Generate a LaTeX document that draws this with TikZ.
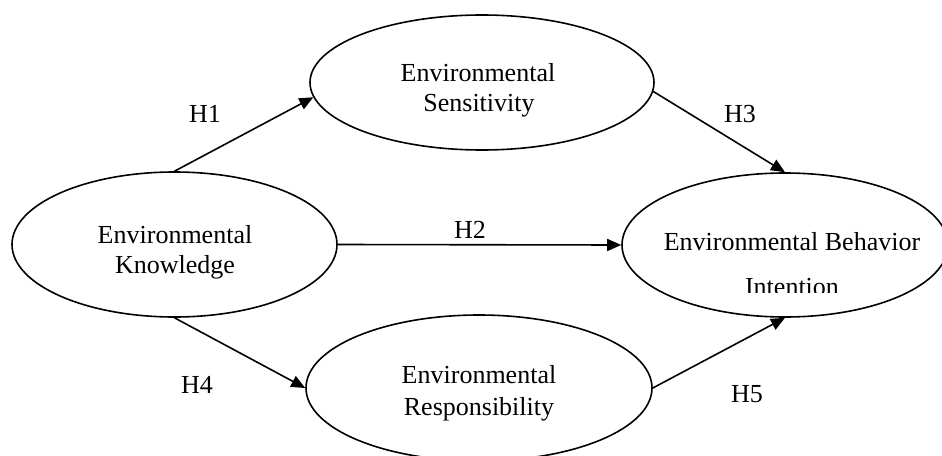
\documentclass[tikz,border=0pt]{standalone}
\usepackage{fontspec}
\setmainfont{Liberation Serif}
\usetikzlibrary{shapes.geometric,arrows.meta}
\begin{document}
\begin{tikzpicture}[x=1pt,y=-1pt,
  construct/.style={draw,ellipse,line width=1.6pt,inner sep=0pt},
  txt/.style={anchor=base,inner sep=0pt,font=\fontsize{26}{31}\selectfont},
  link/.style={-{Triangle[length=14pt,width=12pt]},line width=1.6pt}]
\useasboundingbox (0,0) rectangle (942,455);
% constructs
\node[construct,minimum width=325pt,minimum height=145pt] (K) at (174.5,244.5) {};
\node[construct,minimum width=344pt,minimum height=135pt] (S) at (482,82.5) {};
\node[construct,minimum width=346pt,minimum height=146pt] (R) at (479,388) {};
\node[construct,minimum width=326pt,minimum height=144pt] (B) at (785,245) {};
% texts
\node[txt] (K1) at (175,243) {Environmental};
\node[txt] (K2) at (175,273) {Knowledge};
\node[txt] (S1) at (478,81) {Environmental};
\node[txt] (S2) at (479,111) {Sensitivity};
\node[txt] (R1) at (479,383) {Environmental};
\node[txt] (R2) at (479,415) {Responsibility};
\node[txt] (B1) at (792,250) {Environmental Behavior};
\begin{scope}
  \clip (700,260) rectangle (900,292);
  \node[txt] (B2) at (792,295) {Intention};
\end{scope}
% connectors
\draw[link] (K.north) -- (S.185);
\draw[link] (K.east) -- (B.west);
\draw[link] (S.357) -- (B.north);
\draw[link] (K.south) -- (R.west);
\draw[link] (R.east) -- (B.south);
% labels
\node[txt] (H1) at (205,122) {H1};
\node[txt] (H2) at (470,238) {H2};
\node[txt] (H3) at (740,122) {H3};
\node[txt] (H4) at (197,393) {H4};
\node[txt] (H5) at (747,402) {H5};
\end{tikzpicture}
\end{document}
